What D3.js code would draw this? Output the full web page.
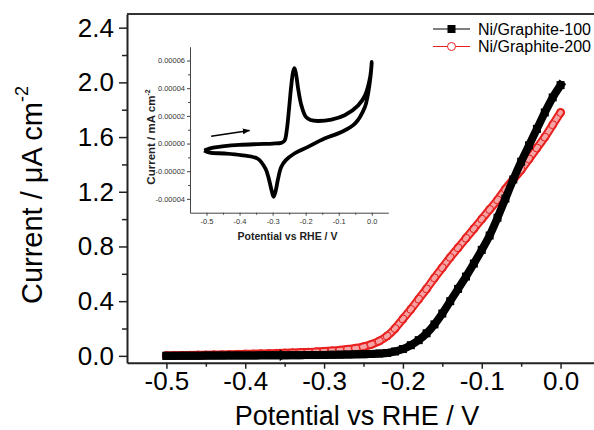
<!DOCTYPE html>
<html>
<head>
<meta charset="utf-8">
<script src="https://cdn.jsdelivr.net/npm/d3@7"></script>
<style>
  body { margin: 0; background: #fff; }
  text { font-family: "Liberation Sans", Arial, sans-serif; }
</style>
</head>
<body>
<svg id="chart"></svg>
<script>
const WIDTH = 594;
const HEIGHT = 430;

// main LSV curves
const potential = [-0.50, -0.49, -0.48, -0.47, -0.46, -0.45, -0.44, -0.43, -0.42, -0.41,
  -0.40, -0.39, -0.38, -0.37, -0.36, -0.35, -0.34, -0.33, -0.32, -0.31,
  -0.30, -0.29, -0.28, -0.27, -0.26, -0.25, -0.24, -0.23, -0.22, -0.21,
  -0.20, -0.19, -0.18, -0.17, -0.16, -0.15, -0.14, -0.13, -0.12, -0.11,
  -0.10, -0.09, -0.08, -0.07, -0.06, -0.05, -0.04, -0.03, -0.02, -0.01, 0.00];
const graphite100 = [0.000, 0.000, 0.001, 0.001, 0.001, 0.002, 0.002, 0.002, 0.003, 0.003,
  0.003, 0.003, 0.004, 0.004, 0.004, 0.004, 0.005, 0.005, 0.006, 0.006,
  0.007, 0.008, 0.009, 0.010, 0.011, 0.012, 0.014, 0.017, 0.021, 0.032,
  0.050, 0.078, 0.115, 0.165, 0.230, 0.310, 0.400, 0.490, 0.580, 0.675,
  0.775, 0.880, 1.010, 1.150, 1.290, 1.420, 1.540, 1.660, 1.780, 1.890, 1.980];
const graphite200 = [0.002, 0.003, 0.004, 0.005, 0.006, 0.007, 0.008, 0.009, 0.010, 0.011,
  0.013, 0.014, 0.016, 0.017, 0.019, 0.021, 0.023, 0.025, 0.027, 0.030,
  0.033, 0.037, 0.042, 0.048, 0.056, 0.067, 0.084, 0.108, 0.145, 0.200,
  0.270, 0.340, 0.415, 0.490, 0.570, 0.645, 0.720, 0.790, 0.860, 0.930,
  1.000, 1.070, 1.140, 1.220, 1.290, 1.360, 1.440, 1.520, 1.600, 1.690, 1.780];
const seriesNames = ["Ni/Graphite-100", "Ni/Graphite-200"];

const xTicks = [-0.5, -0.4, -0.3, -0.2, -0.1, 0.0];
const xTickLabels = ["-0.5", "-0.4", "-0.3", "-0.2", "-0.1", "0.0"];
const xMinorTicks = [-0.45, -0.35, -0.25, -0.15, -0.05];
const yTicks = [0.0, 0.4, 0.8, 1.2, 1.6, 2.0, 2.4];
const yTickLabels = ["0.0", "0.4", "0.8", "1.2", "1.6", "2.0", "2.4"];
const yMinorTicks = [0.2, 0.6, 1.0, 1.4, 1.8, 2.2];

// inset CV loop (forward scan then reverse scan), mA cm-2
const cvPotential = [-0.507, -0.480, -0.446, -0.400, -0.345, -0.300, -0.274, -0.264, -0.257, -0.250,
  -0.244, -0.238, -0.234, -0.229, -0.223, -0.213, -0.200, -0.185, -0.163, -0.122,
  -0.082, -0.041, -0.020, -0.005, 0.000,
  -0.004, -0.012, -0.021, -0.051, -0.092, -0.143, -0.193, -0.234, -0.260, -0.274,
  -0.284, -0.291, -0.297, -0.303, -0.312, -0.322, -0.345, -0.396, -0.446, -0.490, -0.507];
const cvCurrent = [-0.0000050, -0.0000030, -0.0000019, -0.0000010, -0.0000004, 0.0000000, 0.0000005, 0.0000020, 0.0000100, 0.0000260,
  0.0000410, 0.0000520, 0.0000545, 0.0000500, 0.0000400, 0.0000276, 0.0000195, 0.0000170, 0.0000163, 0.0000173,
  0.0000204, 0.0000276, 0.0000350, 0.0000480, 0.0000590,
  0.0000480, 0.0000350, 0.0000263, 0.0000144, 0.0000083, 0.0000036, -0.0000024, -0.0000072, -0.0000120, -0.0000170,
  -0.0000260, -0.0000345, -0.0000385, -0.0000340, -0.0000250, -0.0000180, -0.0000110, -0.0000084, -0.0000072, -0.0000066, -0.0000050];
const scanArrow = [[-0.486, 0.0000053], [-0.370, 0.0000095]];

const insetXTicks = [-0.5, -0.4, -0.3, -0.2, -0.1, 0.0];
const insetXTickLabels = ["-0.5", "-0.4", "-0.3", "-0.2", "-0.1", "0.0"];
const insetXMinor = [-0.45, -0.35, -0.25, -0.15, -0.05];
const insetYTicks = [-0.00004, -0.00002, 0.0, 0.00002, 0.00004, 0.00006];
const insetYTickLabels = ["-0.00004", "-0.00002", "0.00000", "0.00002", "0.00004", "0.00006"];
const insetYMinor = [-0.00003, -0.00001, 0.00001, 0.00003, 0.00005];

const svg = d3.select("#chart").attr("width", WIDTH).attr("height", HEIGHT);

const x = d3.scaleLinear().domain([-0.55, 0.05]).range([127, 600]);
const y = d3.scaleLinear().domain([-0.05, 2.5]).range([362.7, 14]);

const styleAxis = (g, w) => {
  g.select(".domain").attr("stroke", "#222").attr("stroke-width", w);
  g.selectAll(".tick line").attr("stroke", "#222").attr("stroke-width", w * 0.75);
};

// main axes
const xAxisG = svg.append("g")
  .attr("transform", `translate(0,${y.range()[0]})`)
  .call(d3.axisBottom(x).tickValues(xTicks).tickFormat((d, i) => xTickLabels[i])
    .tickSize(6).tickSizeOuter(0).tickPadding(3));
styleAxis(xAxisG, 2);
xAxisG.selectAll("text").attr("font-size", 26).attr("fill", "#000")
  .attr("font-family", "Liberation Sans, Arial, sans-serif");
svg.append("g")
  .attr("transform", `translate(0,${y.range()[0]})`)
  .call(d3.axisBottom(x).tickValues(xMinorTicks).tickFormat("").tickSize(4).tickSizeOuter(0))
  .call((g) => g.select(".domain").remove())
  .call((g) => g.selectAll("line").attr("stroke", "#222").attr("stroke-width", 1.5));

const yAxisG = svg.append("g")
  .attr("transform", `translate(${x.range()[0]},0)`)
  .call(d3.axisLeft(y).tickValues(yTicks).tickFormat((d, i) => yTickLabels[i])
    .tickSize(8).tickSizeOuter(0).tickPadding(5));
styleAxis(yAxisG, 2);
yAxisG.selectAll("text").attr("font-size", 26).attr("fill", "#000")
  .attr("font-family", "Liberation Sans, Arial, sans-serif");
svg.append("g")
  .attr("transform", `translate(${x.range()[0]},0)`)
  .call(d3.axisLeft(y).tickValues(yMinorTicks).tickFormat("").tickSize(5).tickSizeOuter(0))
  .call((g) => g.select(".domain").remove())
  .call((g) => g.selectAll("line").attr("stroke", "#222").attr("stroke-width", 1.5));

// top frame
svg.append("line")
  .attr("x1", x.range()[0]).attr("x2", x.range()[1])
  .attr("y1", y.range()[1]).attr("y2", y.range()[1])
  .attr("stroke", "#333").attr("stroke-width", 2);

// axis titles
svg.append("text")
  .attr("x", 357).attr("y", 425)
  .attr("text-anchor", "middle").attr("font-size", 27)
  .text("Potential vs RHE / V");

const yTitle = svg.append("text")
  .attr("transform", "translate(42,195) rotate(-90)")
  .attr("text-anchor", "middle").attr("font-size", 29);
yTitle.append("tspan").text("Current / \u03bcA cm");
yTitle.append("tspan").attr("dy", -14).attr("font-size", 18).text("-2");

// data
const rows100 = potential.map((p, i) => ({ p, v: graphite100[i] }));
const rows200 = potential.map((p, i) => ({ p, v: graphite200[i] }));
const line = d3.line().x((d) => x(d.p)).y((d) => y(d.v)).curve(d3.curveMonotoneX);

const red = "#e8201e";
svg.append("path").datum(rows200).attr("d", line)
  .attr("fill", "none").attr("stroke", red).attr("stroke-width", 8.5).attr("stroke-linecap", "round");
svg.append("path").datum(rows200).attr("d", line)
  .attr("fill", "none").attr("stroke", "#f4a4a4").attr("stroke-width", 4.5).attr("stroke-linecap", "round");
svg.append("g").selectAll("circle").data(rows200).join("circle")
  .attr("cx", (d) => x(d.p)).attr("cy", (d) => y(d.v)).attr("r", 4)
  .attr("fill", "none").attr("stroke", red).attr("stroke-width", 1);

svg.append("path").datum(rows100).attr("d", line)
  .attr("fill", "none").attr("stroke", "#000").attr("stroke-width", 8).attr("stroke-linecap", "square");
svg.append("g").selectAll("rect").data(rows100).join("rect")
  .attr("x", (d) => x(d.p) - 4).attr("y", (d) => y(d.v) - 4)
  .attr("width", 8).attr("height", 8).attr("fill", "#000");

// small scan-direction arrow on the baseline
const ax = x(-0.35), ay = y(graphite100[15]);
svg.append("path")
  .attr("d", `M${ax + 3},${ay} L${ax - 5},${ay - 6} L${ax - 5},${ay + 6} Z`)
  .attr("fill", "#000");

// legend
const legend = svg.append("g").attr("transform", "translate(433,29)");
seriesNames.forEach((name, i) => {
  const g = legend.append("g").attr("transform", `translate(0,${i * 17.5})`);
  const c = i === 0 ? "#000" : red;
  g.append("line").attr("x1", 0).attr("x2", 37).attr("stroke", c).attr("stroke-width", 1);
  if (i === 0) {
    g.append("rect").attr("x", 14.5).attr("y", -4).attr("width", 8).attr("height", 8).attr("fill", "#000");
  } else {
    g.append("circle").attr("cx", 18.5).attr("r", 4).attr("fill", "#fff").attr("stroke", red).attr("stroke-width", 1);
  }
  g.append("text").attr("x", 45).attr("y", 5.8).attr("font-size", 16).text(name);
});

// inset
const xi = d3.scaleLinear().domain([-0.55, 0.05]).range([190, 388.3]);
const yi = d3.scaleLinear().domain([-0.00005, 0.00007]).range([212.7, 46.7]);

const inX = svg.append("g")
  .attr("transform", `translate(0,${yi.range()[0]})`)
  .call(d3.axisBottom(xi).tickValues(insetXTicks).tickFormat((d, i) => insetXTickLabels[i])
    .tickSize(3).tickSizeOuter(0).tickPadding(3));
inX.select(".domain").attr("stroke", "#444");
inX.selectAll(".tick line").attr("stroke", "#444");
inX.selectAll("text").attr("font-size", 7.5).attr("fill", "#333")
  .attr("font-family", "Liberation Sans, Arial, sans-serif");
svg.append("g")
  .attr("transform", `translate(0,${yi.range()[0]})`)
  .call(d3.axisBottom(xi).tickValues(insetXMinor).tickFormat("").tickSize(2).tickSizeOuter(0))
  .call((g) => g.select(".domain").remove())
  .call((g) => g.selectAll("line").attr("stroke", "#444"));

const inY = svg.append("g")
  .attr("transform", `translate(${xi.range()[0]},0)`)
  .call(d3.axisLeft(yi).tickValues(insetYTicks).tickFormat((d, i) => insetYTickLabels[i])
    .tickSize(3).tickSizeOuter(0).tickPadding(2));
inY.select(".domain").attr("stroke", "#444");
inY.selectAll(".tick line").attr("stroke", "#444");
inY.selectAll("text").attr("font-size", 7.5).attr("fill", "#333")
  .attr("font-family", "Liberation Sans, Arial, sans-serif");
svg.append("g")
  .attr("transform", `translate(${xi.range()[0]},0)`)
  .call(d3.axisLeft(yi).tickValues(insetYMinor).tickFormat("").tickSize(2).tickSizeOuter(0))
  .call((g) => g.select(".domain").remove())
  .call((g) => g.selectAll("line").attr("stroke", "#444"));

svg.append("text")
  .attr("x", 287.5).attr("y", 240)
  .attr("text-anchor", "middle").attr("font-size", 10.5).attr("font-weight", "bold").attr("fill", "#222")
  .text("Potential vs RHE / V");
const inYTitle = svg.append("text")
  .attr("transform", "translate(155,137) rotate(-90)")
  .attr("text-anchor", "middle").attr("font-size", 11.5).attr("font-weight", "bold").attr("fill", "#222");
inYTitle.append("tspan").text("Current / mA cm");
inYTitle.append("tspan").attr("dy", -5).attr("font-size", 7).text("-2");

const cvRows = cvPotential.map((p, i) => ({ p, v: cvCurrent[i] }));
svg.append("path").datum(cvRows)
  .attr("d", d3.line().x((d) => xi(d.p)).y((d) => yi(d.v)).curve(d3.curveCatmullRom.alpha(0.5)))
  .attr("fill", "none").attr("stroke", "#000").attr("stroke-width", 3.8).attr("stroke-linejoin", "round");

svg.append("defs").append("marker")
  .attr("id", "head").attr("viewBox", "0 0 10 10").attr("refX", 9).attr("refY", 5)
  .attr("markerWidth", 5).attr("markerHeight", 5).attr("orient", "auto")
  .append("path").attr("d", "M0,1 L10,5 L0,9 Z").attr("fill", "#000");
svg.append("line")
  .attr("x1", xi(scanArrow[0][0])).attr("y1", yi(scanArrow[0][1]))
  .attr("x2", xi(scanArrow[1][0])).attr("y2", yi(scanArrow[1][1]))
  .attr("stroke", "#000").attr("stroke-width", 1.5).attr("marker-end", "url(#head)");
</script>
</body>
</html>
